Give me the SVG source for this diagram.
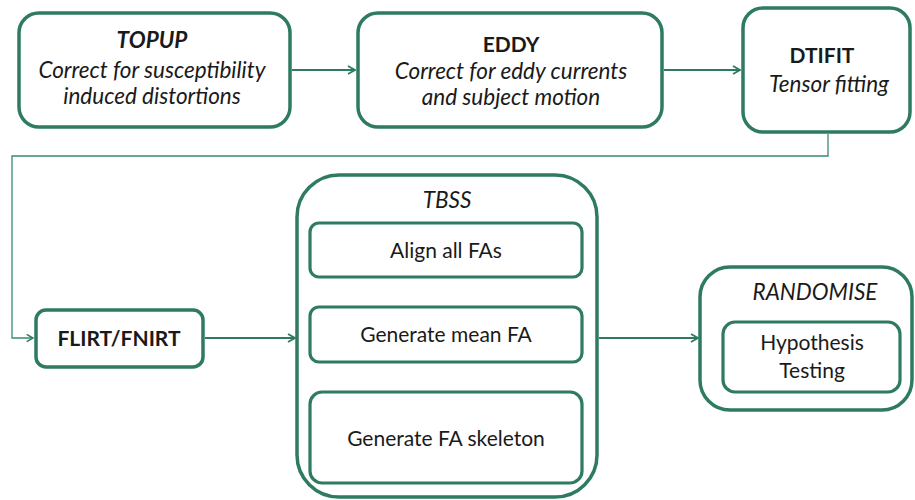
<svg xmlns="http://www.w3.org/2000/svg" width="915" height="500" viewBox="0 0 915 500">
  <defs>
    <marker id="chev" viewBox="0 0 10 10" refX="9" refY="5" markerWidth="10" markerHeight="10" markerUnits="userSpaceOnUse" orient="auto">
      <polyline points="2,1 9,5 2,9" fill="none" stroke="#2e7b5f" stroke-width="1.8"/>
    </marker>
    <marker id="chevS" viewBox="0 0 10 10" refX="9" refY="5" markerWidth="9" markerHeight="9" markerUnits="userSpaceOnUse" orient="auto">
      <polyline points="2,1 9,5 2,9" fill="none" stroke="#2e7b5f" stroke-width="1.6"/>
    </marker>
  </defs>
  <style>
    .box { fill: #ffffff; stroke: #2e7b5f; stroke-width: 3.5; }
    .inner { fill: #ffffff; stroke: #2e7b5f; stroke-width: 3.2; }
    .link { fill: none; stroke: #2e7b5f; stroke-width: 2.2; }
    .thin { fill: none; stroke: #3a8a6c; stroke-width: 1.3; }
    text { font-family: Lato, "Open Sans", "Liberation Sans", sans-serif; fill: #1a1a1a; text-anchor: middle; }
    .t { font-size: 21px; }
    .i { font-style: italic; font-size: 22.5px; }
    .b { font-weight: bold; }
  </style>
  <rect width="915" height="500" fill="#ffffff"/>

  <g id="connectors">
    <line class="link" x1="292" y1="70" x2="355" y2="70" marker-end="url(#chev)"/>
    <line class="link" x1="664" y1="70" x2="740" y2="70" marker-end="url(#chev)"/>
    <polyline class="thin" points="828,134 828,156 12,156 12,338 33,338" marker-end="url(#chevS)"/>
    <line class="link" x1="205" y1="338" x2="295" y2="338" marker-end="url(#chev)"/>
    <line class="link" x1="599" y1="338" x2="698" y2="338" marker-end="url(#chev)"/>
    <line class="link" x1="447" y1="278" x2="447" y2="305" marker-end="url(#chevS)"/>
    <line class="link" x1="447" y1="363" x2="447" y2="390" marker-end="url(#chevS)"/>
  </g>

  <g id="topup">
    <rect class="box" x="19" y="13" width="271" height="114" rx="20"/>
    <text class="t b i" x="152" y="48">TOPUP</text>
    <text class="t i" x="152" y="78">Correct for susceptibility</text>
    <text class="t i" x="152" y="104">induced distortions</text>
  </g>

  <g id="eddy">
    <rect class="box" x="358" y="13" width="304" height="114" rx="20"/>
    <text class="t b" x="511" y="52">EDDY</text>
    <text class="t i" x="511" y="79">Correct for eddy currents</text>
    <text class="t i" x="511" y="105">and subject motion</text>
  </g>

  <g id="dtifit">
    <rect class="box" x="743" y="8" width="167" height="124" rx="20"/>
    <text class="t b" x="822" y="63">DTIFIT</text>
    <text class="t i" x="829" y="92">Tensor fitting</text>
  </g>

  <g id="flirt">
    <rect class="box" x="36" y="310" width="167" height="57" rx="10"/>
    <text class="t b" x="119" y="346">FLIRT/FNIRT</text>
  </g>

  <g id="tbss">
    <rect class="box" x="297" y="175" width="300" height="322" rx="42"/>
    <text class="t i" x="447" y="208">TBSS</text>
    <g id="align">
      <rect class="inner" x="310" y="223" width="272" height="54" rx="9"/>
      <text class="t" x="446" y="258">Align all FAs</text>
    </g>
    <g id="mean">
      <rect class="inner" x="310" y="307" width="272" height="55" rx="9"/>
      <text class="t" x="446" y="342">Generate mean FA</text>
    </g>
    <g id="skeleton">
      <rect class="inner" x="310" y="392" width="272" height="91" rx="12"/>
      <text class="t" x="446" y="446">Generate FA skeleton</text>
    </g>
  </g>

  <g id="randomise">
    <rect class="box" x="700" y="267" width="212" height="143" rx="30"/>
    <text class="t i" x="815" y="300">RANDOMISE</text>
    <g id="hypothesis">
      <rect class="inner" x="723" y="322" width="177" height="70" rx="12"/>
      <text class="t" x="812" y="350">Hypothesis</text>
      <text class="t" x="812" y="378">Testing</text>
    </g>
  </g>
</svg>
